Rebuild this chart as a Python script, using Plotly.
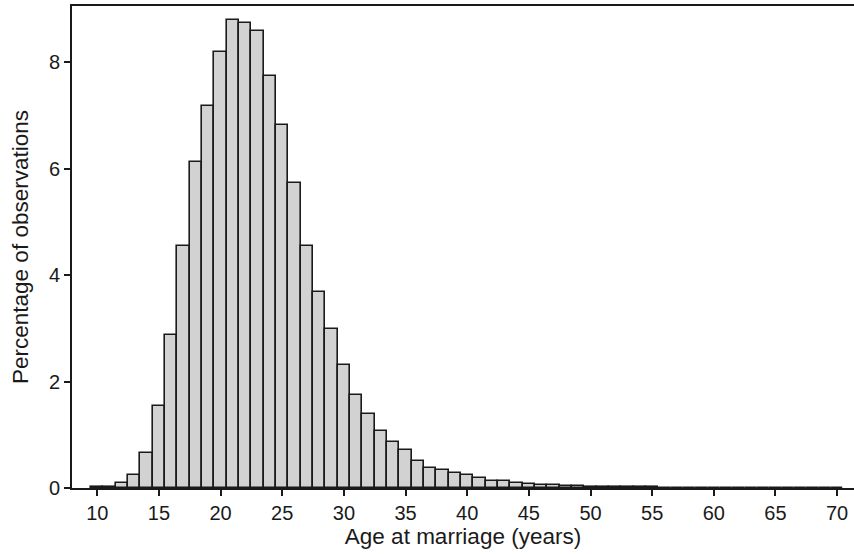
import plotly.graph_objects as go

# Age at marriage, one-year bins centred on whole years
ages = list(range(10, 71))
pct = [
    0.01, 0.02, 0.09, 0.24, 0.65, 1.55, 2.87, 4.55, 6.12, 7.18,   # 10-19
    8.19, 8.80, 8.74, 8.59, 7.74, 6.83, 5.73, 4.54, 3.68, 2.99,   # 20-29
    2.31, 1.75, 1.40, 1.08, 0.86, 0.71, 0.51, 0.38, 0.34, 0.29,   # 30-39
    0.24, 0.18, 0.14, 0.14, 0.09, 0.08, 0.06, 0.06, 0.04, 0.035,  # 40-49
    0.02, 0.015, 0.01, 0.01, 0.01, 0.01, 0.005, 0.004, 0.004, 0.003,  # 50-59
    0.003, 0.002, 0.002, 0.004, 0.004, 0.002, 0.002, 0.002, 0.002, 0.002,  # 60-69
    0.002,  # 70
]
x_ticks = list(range(10, 71, 5))
y_ticks = [0, 2, 4, 6, 8]

INK = "#1a1a1a"
FONT = "Liberation Sans, Arial, Helvetica, sans-serif"

fig = go.Figure(
    go.Bar(
        x=ages,
        y=pct,
        width=1,
        marker=dict(color="#d2d2d2", line=dict(color=INK, width=1.6)),
        hoverinfo="x+y",
    )
)

fig.update_layout(
    width=854,
    height=554,
    margin=dict(l=72, r=0, t=6, b=66),
    paper_bgcolor="white",
    plot_bgcolor="white",
    showlegend=False,
    bargap=0,
    font=dict(family=FONT, size=20, color=INK),
)

fig.update_xaxes(
    range=[7.95, 71.37],
    tickvals=x_ticks,
    ticks="outside",
    ticklen=6,
    tickwidth=1.5,
    tickcolor=INK,
    showline=True,
    linecolor=INK,
    linewidth=2,
    mirror=True,
    showgrid=False,
    zeroline=False,
    tickfont=dict(size=20),
    title=dict(text="Age at marriage (years)", font=dict(size=22.5), standoff=5),
)

fig.update_yaxes(
    range=[0, 9.06],
    tickvals=y_ticks,
    ticks="outside",
    ticklen=6,
    tickwidth=1.5,
    tickcolor=INK,
    showline=True,
    linecolor=INK,
    linewidth=2,
    showgrid=False,
    zeroline=False,
    tickfont=dict(size=20),
    title=dict(text="Percentage of observations", font=dict(size=22.5), standoff=14),
)

fig.write_html("out.html")
